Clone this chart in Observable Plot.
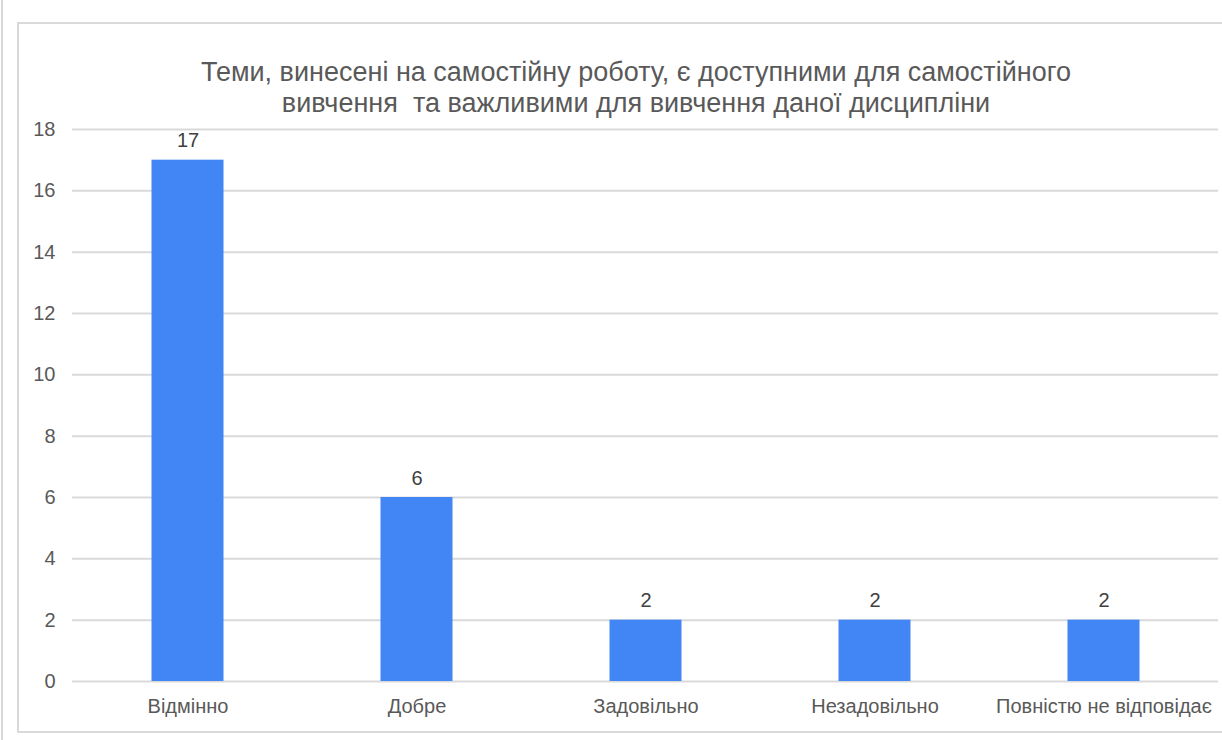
<!DOCTYPE html>
<html>
<head>
<meta charset="utf-8">
<script src="https://cdn.jsdelivr.net/npm/d3@7"></script>
<script src="https://cdn.jsdelivr.net/npm/@observablehq/plot@0.6"></script>
<style>
  html, body { margin: 0; padding: 0; background: #fff; }
  #wrap { position: relative; width: 1222px; height: 740px; overflow: hidden; font-family: "Liberation Sans", Arial, sans-serif; }
  #outer { position: absolute; left: 1px; top: 0; width: 0; height: 740px; border-left: 2px solid #d9d9d9; }
  #box { position: absolute; left: 17px; top: 22px; width: 1220px; height: 707px; border: 2px solid #d9d9d9; }
  #title { position: absolute; left: 136px; width: 1000px; top: 57px; text-align: center; font-size: 27px; line-height: 31px; color: #595959; white-space: pre; }
  #chart { position: absolute; left: 0; top: 0; }
</style>
</head>
<body>
<div id="wrap">
  <div id="outer"></div>
  <div id="box"></div>
  <div id="title"></div>
  <div id="chart"></div>
</div>
<script>
const titleLines = ["Теми, винесені на самостійну роботу, є доступними для самостійного", "вивчення  та важливими для вивчення даної дисципліни"];
const categories = ["Відмінно", "Добре", "Задовільно", "Незадовільно", "Повністю не відповідає"];
const values = [17, 6, 2, 2, 2];
const yTicks = [0, 2, 4, 6, 8, 10, 12, 14, 16, 18];

document.getElementById("title").textContent = titleLines.join("\n");

const data = categories.map((c, i) => ({category: c, value: values[i]}));

const chart = Plot.plot({
  width: 1222,
  height: 740,
  marginLeft: 72,
  marginRight: 4,
  marginTop: 129,
  marginBottom: 59,
  style: {background: "transparent", fontFamily: "'Liberation Sans', Arial, sans-serif", fontSize: "20px", color: "#595959", overflow: "visible"},
  x: {domain: categories, padding: 0, label: null},
  y: {domain: [0, 18], label: null},
  marks: [
    Plot.gridY(yTicks, {stroke: "#d9d9d9", strokeOpacity: 1, strokeWidth: 2}),
    Plot.barY(data, {x: "category", y: "value", fill: "#4285F4", insetLeft: 78.5, insetRight: 78.5}),
    Plot.text(data, {x: "category", y: "value", text: d => String(d.value), dy: -13, lineAnchor: "bottom", fill: "#404040", fontSize: 20}),
    Plot.axisY({ticks: yTicks, tickSize: 0, tickPadding: 17, fill: "#595959", fontSize: 20, label: null}),
    Plot.axisX({tickSize: 0, tickPadding: 17, fill: "#595959", fontSize: 20, label: null})
  ]
});
document.getElementById("chart").appendChild(chart);
</script>
</body>
</html>
